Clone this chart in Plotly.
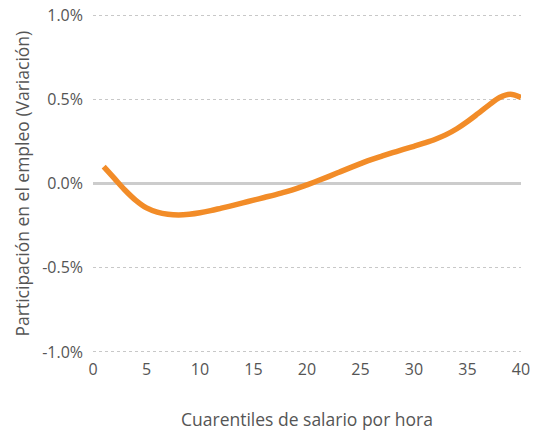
import plotly.graph_objects as go

cuartiles = list(range(1, 41))
variacion = [0.10, 0.03, -0.04, -0.10, -0.145, -0.17, -0.183, -0.187, -0.183, -0.174,
             -0.161, -0.146, -0.131, -0.115, -0.099, -0.083, -0.067, -0.05, -0.031, -0.008,
             0.016, 0.041, 0.067, 0.093, 0.118, 0.142, 0.163, 0.183, 0.202, 0.221,
             0.241, 0.263, 0.29, 0.325, 0.368, 0.416, 0.465, 0.51, 0.53, 0.51]
y_ticks = [-1.0, -0.5, 0.0, 0.5, 1.0]
y_labels = ["-1.0%", "-0.5%", "0.0%", "0.5%", "1.0%"]
x_ticks = [0, 5, 10, 15, 20, 25, 30, 35, 40]

font_fam = "Open Sans, sans-serif"
grey = "#555555"

fig = go.Figure()
fig.add_trace(go.Scatter(x=cuartiles, y=variacion, mode="lines",
                         line=dict(color="#F28C28", width=5.5, shape="spline", smoothing=1.0),
                         showlegend=False, hoverinfo="skip"))

fig.update_layout(
    width=535, height=430,
    margin=dict(l=93, r=14, t=13, b=76),
    paper_bgcolor="white", plot_bgcolor="white",
    font=dict(family=font_fam, color=grey, size=16),
    xaxis=dict(range=[0, 40], tickvals=x_ticks, showgrid=False, zeroline=False,
               showline=False, ticks="", automargin=False, ticklabelstandoff=4,
               tickfont=dict(size=16, color=grey)),
    yaxis=dict(range=[-1.012, 1.012], tickvals=y_ticks, ticktext=y_labels,
               showgrid=True, gridcolor="#c8c8c8", griddash="dot", gridwidth=1,
               zeroline=True, zerolinecolor="#cccccc", zerolinewidth=2.5,
               showline=False, ticks="", ticklabelstandoff=9, automargin=False,
               tickfont=dict(size=16, color=grey)),
    annotations=[
        dict(text="Cuarentiles de salario por hora", xref="paper", yref="paper",
             x=0.5, y=-0.19, xanchor="center", yanchor="middle", showarrow=False,
             font=dict(size=17.5, color=grey)),
        dict(text="Participación en el empleo (Variación)", xref="paper", yref="paper",
             x=-0.166, y=0.5, xanchor="center", yanchor="middle", showarrow=False,
             textangle=-90, font=dict(size=17.5, color=grey)),
    ],
)

fig.write_html("out.html", config={"displayModeBar": False},
               post_script="document.body.style.margin='0px';")
